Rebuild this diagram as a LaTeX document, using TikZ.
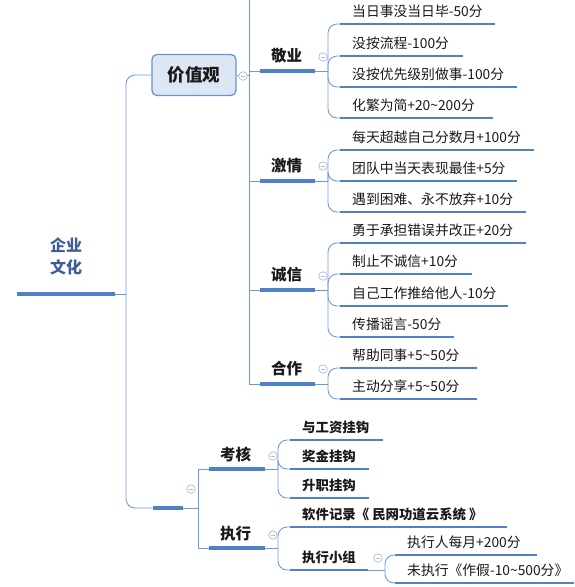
\documentclass[tikz,border=0pt]{standalone}
\usepackage{fontspec}
\setmainfont{Noto Sans CJK SC}
\definecolor{thick}{RGB}{79,129,199}
\definecolor{thin}{RGB}{112,155,218}
\definecolor{boxfill}{RGB}{221,231,244}
\definecolor{boxdraw}{RGB}{104,148,212}
\definecolor{colc}{RGB}{168,188,224}
\definecolor{roottext}{RGB}{62,92,150}
\definecolor{txt}{RGB}{25,25,25}
\newcommand\leafitem[8]{%
  \coordinate (#2s) at (#4,#5);
  \coordinate (#2e) at (#6,#5);
  \node[#1, anchor=base west] (#2) at (#7,#5-8) {#8};
  \draw[uline] (#2s) -- (#2e);
  \draw[conn, rounded corners=9pt] (#3) |- (#2s);
}
\newcommand\branchitem[5]{% name, y, text, junction name, x of vertical
  \coordinate (#1a) at (#5,#2);
  \coordinate (#1s) at (260,#2);
  \coordinate (#1e) at (315,#2);
  \coordinate (#4) at (328,#2);
  \node[brtxt, anchor=base west] (#1) at (271,#2-10) {#3};
  \draw[conn] (#1a) -- (#1s);
  \draw[bline] (#1s) -- (#1e);
  \draw[conn] (#1e) -- (#4);
}
\begin{document}
\begin{tikzpicture}[x=1pt,y=-1pt,
  conn/.style={draw=thin, line width=0.9pt},
  uline/.style={draw=thick, line width=2.6pt},
  bline/.style={draw=thick, line width=3.2pt},
  rootbar/.style={draw=thick, line width=4.2pt},
  leaftxt/.style={font=\fontsize{13.8}{15}\selectfont, text=txt, inner sep=0pt},
  boldleaf/.style={font=\fontsize{13.4}{15}\selectfont\bfseries, text=txt, inner sep=0pt},
  brtxt/.style={font=\fontsize{15.5}{18}\selectfont\bfseries, text=txt, inner sep=0pt},
  collapse/.style={circle, draw=colc, fill=white, line width=0.7pt, minimum size=8.5pt, inner sep=0pt,
    path picture={\draw[colc, line width=0.7pt] ([xshift=-2.2pt]path picture bounding box.center) -- ([xshift=2.2pt]path picture bounding box.center);}},
  valbox/.style={draw=boxdraw, fill=boxfill, line width=1.3pt, rounded corners=5pt,
    minimum width=84pt, minimum height=41pt, font=\fontsize{17.5}{20}\selectfont\bfseries, text=txt}
]
\useasboundingbox (0,0) rectangle (574,587);

% root
\node[font=\fontsize{16}{22}\selectfont\bfseries, text=roottext, align=center, inner sep=0pt] (root) at (66,256) {企业\\文化};
\coordinate (rootL) at (17,294);
\coordinate (rootR) at (115,294);
\coordinate (trunk) at (126,294);
\draw[rootbar] (rootL) -- (rootR);
\draw[conn] (rootR) -- (trunk);

% value box
\node[valbox] (val) at (194,75) {价值观};
\draw[conn, rounded corners=9pt] (trunk) |- (val.west);
\coordinate (valR) at (249,75);
\draw[conn] (val.east) -- (valR);
\node[collapse] (cval) at (243,76) {};

% vertical of value branches
\coordinate (vtop) at (249,0);
\coordinate (vbot) at (249,384);
\draw[conn] (vtop) -- (vbot);

\branchitem{ky}{71}{敬业}{jA}{249}
\branchitem{jq}{181}{激情}{jB}{249}
\branchitem{cx}{290}{诚信}{jC}{249}
\branchitem{hz}{384}{合作}{jD}{249}
\node[collapse] (cA) at (323,57) {};
\node[collapse] (cB) at (323,166) {};
\node[collapse] (cC) at (323,276) {};
\node[collapse] (cD) at (323,369) {};

% 敬业 leaves
\leafitem{leaftxt}{a1}{jA}{340}{24}{495}{352}{当日事没当日毕-50分}
\leafitem{leaftxt}{a2}{jA}{340}{56}{463}{352}{没按流程-100分}
\leafitem{leaftxt}{a3}{jA}{340}{87}{517}{352}{没按优先级别做事-100分}
\leafitem{leaftxt}{a4}{jA}{340}{118}{493}{352}{化繁为简+20\char"007E 200分}
% 激情 leaves
\leafitem{leaftxt}{b1}{jB}{340}{150}{534}{352}{每天超越自己分数月+100分}
\leafitem{leaftxt}{b2}{jB}{340}{181}{517}{352}{团队中当天表现最佳+5分}
\leafitem{leaftxt}{b3}{jB}{340}{212}{526}{352}{遇到困难、永不放弃+10分}
% 诚信 leaves
\leafitem{leaftxt}{c1}{jC}{340}{243}{526}{352}{勇于承担错误并改正+20分}
\leafitem{leaftxt}{c2}{jC}{340}{274}{472}{352}{制止不诚信+10分}
\leafitem{leaftxt}{c3}{jC}{340}{306}{508}{352}{自己工作推给他人-10分}
\leafitem{leaftxt}{c4}{jC}{340}{337}{454}{352}{传播谣言-50分}
% 合作 leaves
\leafitem{leaftxt}{d1}{jD}{340}{368}{477}{352}{帮助同事+5\char"007E 50分}
\leafitem{leaftxt}{d2}{jD}{340}{399}{477}{352}{主动分享+5\char"007E 50分}

% lower group
\coordinate (g1s) at (153,508);
\coordinate (g1e) at (183,508);
\coordinate (g1j) at (198,508);
\draw[conn, rounded corners=9pt] (trunk) |- (g1s);
\draw[bline] (g1s) -- (g1e);
\draw[conn] (g1e) -- (g1j);
\node[collapse] (cg1) at (191,489) {};

\coordinate (khs) at (209,469);
\coordinate (khe) at (265,469);
\coordinate (jK) at (278,469);
\coordinate (zxs) at (209,548);
\coordinate (zxe) at (265,548);
\coordinate (jZ) at (278,548);
\draw[conn] (g1j) |- (khs);
\draw[conn] (g1j) |- (zxs);
\draw[bline] (khs) -- (khe);
\draw[bline] (zxs) -- (zxe);
\draw[conn] (khe) -- (jK);
\draw[conn] (zxe) -- (jZ);
\node[brtxt, anchor=base west] (kh) at (220,460) {考核};
\node[brtxt, anchor=base west] (zx) at (220,539) {执行};
\node[collapse] (cK) at (273,456) {};
\node[collapse] (cZ) at (273,535) {};

\leafitem{boldleaf}{k1}{jK}{290}{440}{383}{302}{与工资挂钩}
\leafitem{boldleaf}{k2}{jK}{290}{469}{369}{302}{奖金挂钩}
\leafitem{boldleaf}{k3}{jK}{290}{498}{369}{302}{升职挂钩}

\leafitem{boldleaf}{z1}{jZ}{290}{527}{507}{302}{软件记录《 民网功道云系统 》}
\leafitem{boldleaf}{z2}{jZ}{290}{570}{368}{302}{执行小组}
\coordinate (jS) at (385,570);
\draw[conn] (z2e) -- (jS);
\node[collapse] (cS) at (378,558) {};
\leafitem{leaftxt}{s1}{jS}{395}{555}{537}{407}{执行人每月+200分}
\leafitem{leaftxt}{s2}{jS}{395}{583}{574}{407}{未执行《作假-10\char"007E 500分》}
\end{tikzpicture}
\end{document}
